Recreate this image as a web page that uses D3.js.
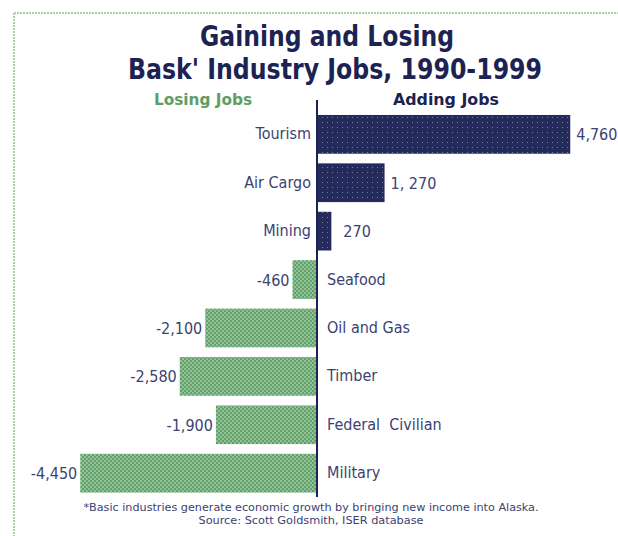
<!DOCTYPE html>
<html>
<head>
<meta charset="utf-8">
<script src="https://cdn.jsdelivr.net/npm/d3@7"></script>
<style>
  html, body { margin: 0; padding: 0; background: #ffffff; overflow: hidden; }
  svg { display: block; }
</style>
</head>
<body>
<script>
// ---- Data ----
const categories = ["Tourism", "Air Cargo", "Mining", "Seafood", "Oil and Gas", "Timber", "Federal  Civilian", "Military"];
const jobChange = [4760, 1270, 270, -460, -2100, -2580, -1900, -4450];
const valueLabels = ["4,760", "1, 270", "270", "-460", "-2,100", "-2,580", "-1,900", "-4,450"];
const titleLines = ["Gaining and Losing", "Bask' Industry Jobs, 1990-1999"];
const sideLabels = ["Losing Jobs", "Adding Jobs"];
const footnotes = ["*Basic industries generate economic growth by bringing new income into Alaska.", "Source: Scott Goldsmith, ISER database"];

const W = 618, H = 536;
const navy = "#1c2352";
const textGray = "#3c4272";
const font = '"Liberation Sans Narrow", "DejaVu Sans Condensed", "DejaVu Sans", "Liberation Sans", sans-serif';

const svg = d3.select("body").append("svg").attr("width", W).attr("height", H);

// patterns
const defs = svg.append("defs");
const pg = defs.append("pattern").attr("id", "pgreen").attr("width", 4).attr("height", 4).attr("patternUnits", "userSpaceOnUse");
pg.append("rect").attr("width", 4).attr("height", 4).attr("fill", "#64a06e");
pg.append("rect").attr("x", 0).attr("y", 0).attr("width", 2).attr("height", 2).attr("fill", "#90c293");
pg.append("rect").attr("x", 2).attr("y", 2).attr("width", 2).attr("height", 2).attr("fill", "#90c293");
const pn = defs.append("pattern").attr("id", "pnavy").attr("width", 5).attr("height", 5).attr("patternUnits", "userSpaceOnUse");
pn.append("rect").attr("width", 5).attr("height", 5).attr("fill", "#242a5c");
pn.append("rect").attr("x", 2).attr("y", 2).attr("width", 1).attr("height", 1).attr("fill", "#6d8a86");

// frame (dotted light green)
svg.append("line").attr("x1", 14).attr("x2", W).attr("y1", 13).attr("y2", 13)
  .attr("stroke", "#a8d2a8").attr("stroke-width", 2).attr("stroke-dasharray", "2,1");
svg.append("line").attr("x1", 14).attr("x2", 14).attr("y1", 13).attr("y2", H)
  .attr("stroke", "#a8d2a8").attr("stroke-width", 2).attr("stroke-dasharray", "2,1");

// title
const titleWidths = [254, 414];
svg.selectAll("text.title").data(titleLines).join("text")
  .attr("class", "title")
  .attr("x", (d, i) => i === 0 ? 327 : 335).attr("y", (d, i) => 46 + i * 33)
  .attr("text-anchor", "middle")
  .attr("font-family", font).attr("font-weight", "bold").attr("font-size", 28)
  .attr("textLength", (d, i) => titleWidths[i]).attr("lengthAdjust", "spacingAndGlyphs")
  .attr("fill", navy)
  .text(d => d);

// scales
const x = d3.scaleLinear().domain([-5000, 5000]).range([51, 583]);
const y = d3.scaleBand().domain(categories).range([105.3, 502.2]).padding(0.2);

// side labels
svg.append("text").attr("x", 203).attr("y", 105).attr("text-anchor", "middle")
  .attr("font-family", font).attr("font-weight", "bold").attr("font-size", 16)
  .attr("textLength", 98).attr("lengthAdjust", "spacingAndGlyphs")
  .attr("fill", "#5e9e66").text(sideLabels[0]);
svg.append("text").attr("x", 446).attr("y", 105).attr("text-anchor", "middle")
  .attr("font-family", font).attr("font-weight", "bold").attr("font-size", 16)
  .attr("textLength", 106).attr("lengthAdjust", "spacingAndGlyphs")
  .attr("fill", navy).text(sideLabels[1]);

const rows = categories.map((c, i) => ({ cat: c, v: jobChange[i], lab: valueLabels[i] }));

// bars
svg.selectAll("rect.bar").data(rows).join("rect")
  .attr("class", "bar")
  .attr("x", d => x(Math.min(0, d.v)))
  .attr("y", d => y(d.cat))
  .attr("width", d => Math.abs(x(d.v) - x(0)))
  .attr("height", y.bandwidth())
  .attr("fill", d => d.v >= 0 ? "url(#pnavy)" : "url(#pgreen)");

// zero axis
svg.append("line").attr("x1", x(0)).attr("x2", x(0)).attr("y1", 100).attr("y2", 497)
  .attr("stroke", navy).attr("stroke-width", 2);

// category labels
svg.selectAll("text.cat").data(rows).join("text")
  .attr("class", "cat")
  .attr("x", d => d.v >= 0 ? x(0) - 6 : x(0) + 10)
  .attr("y", d => y(d.cat) + y.bandwidth() / 2 + 5)
  .attr("text-anchor", d => d.v >= 0 ? "end" : "start")
  .attr("font-family", font).attr("font-size", 16)
  .attr("fill", textGray)
  .style("white-space", "pre")
  .text(d => d.cat);

// value labels
svg.selectAll("text.val").data(rows).join("text")
  .attr("class", "val")
  .attr("x", d => d.v >= 0 ? x(d.v) + (d.v < 1000 ? 12 : 6) : x(d.v) - 3)
  .attr("y", d => y(d.cat) + y.bandwidth() / 2 + 6)
  .attr("text-anchor", d => d.v >= 0 ? "start" : "end")
  .attr("font-family", font).attr("font-size", 16)
  .attr("fill", textGray)
  .style("white-space", "pre")
  .text(d => d.lab);

// footnotes
const footWidths = [455, 225];
svg.selectAll("text.foot").data(footnotes).join("text")
  .attr("class", "foot")
  .attr("x", 311).attr("y", (d, i) => 511 + i * 13)
  .attr("text-anchor", "middle")
  .attr("font-family", font).attr("font-size", 11)
  .attr("textLength", (d, i) => footWidths[i]).attr("lengthAdjust", "spacingAndGlyphs")
  .attr("fill", textGray)
  .text(d => d);
</script>
</body>
</html>
